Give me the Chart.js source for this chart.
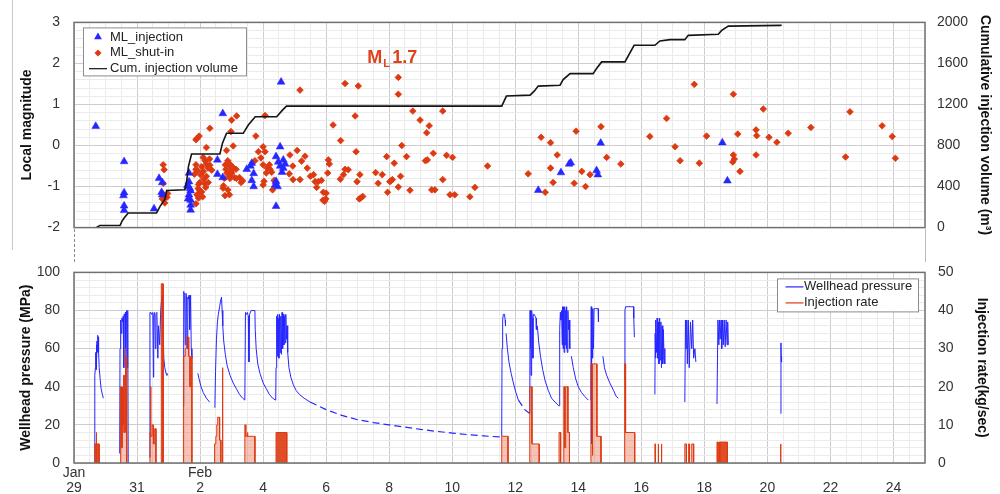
<!DOCTYPE html>
<html>
<head>
<meta charset="utf-8">
<script src="https://cdn.jsdelivr.net/npm/chart.js@4.4.1/dist/chart.umd.min.js"></script>
<style>
  html, body { margin: 0; padding: 0; background: #fff; }
  #wrap { position: relative; width: 1000px; height: 494px; overflow: hidden; }
  #top-box { position: absolute; left: 0; top: 0; width: 1000px; height: 250px; }
  #bottom-box { position: absolute; left: 0; top: 250px; width: 1000px; height: 244px; }
  .rule { position: absolute; width: 0; }
</style>
</head>
<body>
<div id="wrap">
  <div id="top-box"><canvas id="magnitude-chart"></canvas></div>
  <div id="bottom-box"><canvas id="pressure-chart"></canvas></div>
  <div class="rule" style="left:12px;top:0;height:250px;border-left:1px solid #c8c8c8"></div>
  <div class="rule" style="left:74px;top:229px;height:33px;border-left:1px dashed #888"></div>
  <div class="rule" style="left:925px;top:229px;height:33px;border-left:1px solid #bbb"></div>
</div>
<script>
// x values are days after Jan 29
const dayTicks = [0, 2, 4, 6, 8, 10, 12, 14, 16, 18, 20, 22, 24, 26];
const dayTickLabels = [['Jan', '29'], ['', '31'], ['Feb', '2'], ['', '4'], ['', '6'], ['', '8'], ['', '10'],
  ['', '12'], ['', '14'], ['', '16'], ['', '18'], ['', '20'], ['', '22'], ['', '24']];

// [day, local magnitude]
const mlInjection = [
  [0.69, 0.47], [1.59, -0.39], [1.59, -1.15], [1.57, -1.22], [1.59, -1.47], [1.59, -1.58],
  [2.54, -1.54], [2.7, -0.8], [2.8, -0.9], [2.78, -1.14], [2.8, -1.2],
  [3.65, -0.67], [3.65, -0.88], [3.62, -1.0], [3.6, -0.97], [3.7, -1.1], [3.68, -1.05], [3.65, -1.2],
  [3.7, -1.33], [3.7, -1.45], [3.7, -1.57], [3.62, -1.3],
  [4.72, 0.78], [4.55, -0.35], [4.55, -0.7], [4.72, -0.78],
  [5.48, -0.58], [5.64, -0.43], [5.6, -0.5], [5.7, -0.68], [5.64, -0.85], [5.7, -1.0],
  [6.41, -0.27], [6.54, -0.03], [6.57, 1.55], [6.64, -0.35], [6.48, -0.4], [6.54, -0.5], [6.7, -0.45],
  [6.64, -0.55], [6.6, -0.65], [6.41, -0.87], [6.46, -1.0], [6.38, -0.96], [6.41, -1.48],
  [14.73, -1.09], [15.45, -0.66], [15.71, -0.45], [15.76, -0.42], [16.71, 0.06], [16.58, -0.61], [16.62, -0.71],
  [20.57, 0.07], [20.73, -0.86]
];

const mlShutIn = [
  [2.83, -0.47], [2.86, -0.59], [2.83, -0.92], [2.81, -1.17], [2.9, -1.24], [2.86, -1.3], [2.97, -1.17],
  [2.8, -1.3], [2.88, -1.4], [2.95, -1.26],
  [3.97, 0.23], [3.9, 0.17], [4.31, 0.42], [4.2, -0.05], [3.87, 0.14], [3.87, -0.47], [3.87, -0.58],
  [3.82, -0.7], [3.92, -0.62], [3.95, -0.95], [3.95, -1.28], [3.87, -1.42], [4.0, -1.1], [3.9, -1.2],
  [4.1, -0.29], [4.16, -0.37], [4.2, -0.45], [4.05, -0.52], [4.31, -0.48], [4.1, -0.63], [4.2, -0.75],
  [3.99, -0.9], [4.15, -0.93], [3.94, -1.05], [4.05, -1.13], [3.92, -1.2], [4.26, -0.9], [4.37, -0.6],
  [4.3, -0.33], [4.25, -0.55], [4.12, -0.82], [4.02, -0.72], [4.18, -1.02], [4.08, -1.25],
  [5.0, 0.62], [5.16, 0.72], [4.98, 0.34], [5.05, -0.01], [4.84, -0.12], [4.88, -0.37], [4.93, -0.44],
  [5.03, -0.52], [4.82, -0.58], [4.98, -0.62], [5.14, -0.58], [4.93, -0.75], [5.09, -0.78], [5.25, -0.78],
  [4.73, -1.04], [4.88, -1.08], [4.79, -1.22], [4.93, -1.2],
  [4.8, -0.47], [4.94, -0.5], [5.05, -0.55], [4.85, -0.67], [5.0, -0.67], [4.77, -0.8], [4.95, -0.8],
  [5.15, -0.8], [5.3, -0.9], [5.35, -0.86], [4.74, -0.98],
  [5.77, 0.23], [6.06, 0.73], [6.0, -0.03], [5.85, -0.15], [6.06, -0.15], [5.74, -0.37], [5.93, -0.3],
  [6.0, -0.47], [6.2, -0.47], [6.13, -0.55], [6.22, -0.58], [6.1, -0.67], [6.27, -0.65], [6.0, -0.96],
  [6.3, -1.08], [6.35, -0.85], [6.03, -0.87],
  [7.17, 1.35], [6.85, -0.23], [7.08, -0.12], [7.33, -0.26], [7.22, -0.38], [6.94, -0.5], [7.4, -0.55],
  [6.83, -0.69], [7.17, -0.83], [6.95, -0.83], [7.6, -0.71], [7.75, -0.88], [7.65, -0.88], [7.7, -1.02],
  [7.5, -0.75], [7.85, -0.85], [7.91, -1.14], [7.9, -1.33], [7.99, -1.3], [8.07, -0.35], [8.1, -0.45],
  [8.05, -0.67], [8.0, -1.16], [7.95, -1.36],
  [8.22, 0.5], [8.6, 1.51], [8.46, 0.12], [8.55, -0.71], [8.7, -0.59], [8.6, -0.58], [8.45, -0.82],
  [8.95, -0.15], [9.02, 1.45], [8.92, 0.72], [9.07, -0.71], [8.98, -0.88], [9.16, -1.24], [9.1, -1.28], [9.05, -1.3],
  [9.57, -0.66], [9.78, -0.71], [9.65, -0.92], [9.95, -1.14], [9.92, -0.27], [10.06, -0.86], [10.1, -0.83],
  [10.02, -0.88], [10.16, -0.43], [10.29, 1.66], [10.29, 1.25], [10.29, -1.01], [10.36, -0.75], [10.4, 0.0],
  [10.55, -0.27], [10.66, -1.09], [10.75, 0.84], [10.98, 0.62], [11.19, 0.31], [11.27, 0.48], [11.21, -0.35],
  [11.15, -0.37], [11.4, -0.19], [11.45, -1.08], [11.35, -1.08], [11.7, 0.84], [11.7, -0.83], [11.82, -0.24],
  [12.01, -0.29], [11.93, -1.2], [12.08, -1.2], [12.56, -1.25], [12.72, -1.02], [13.12, -0.5],
  [14.41, -0.69], [14.82, 0.2], [15.12, 0.07], [15.33, -0.23], [15.12, -0.55], [15.2, -0.9], [14.95, -1.14],
  [15.93, 0.35], [16.11, -0.63], [15.87, -0.92], [16.23, -1.0], [16.37, -0.71], [16.72, 0.46], [16.9, -0.29],
  [17.35, -0.45], [18.27, 0.22], [18.8, 0.66], [19.68, 1.49], [19.07, -0.03], [19.23, -0.37], [19.84, -0.43],
  [20.07, 0.23], [20.92, 1.25], [20.92, -0.23], [20.95, -0.33], [20.9, -0.4], [21.06, 0.28], [21.13, -0.63],
  [21.64, 0.38], [21.66, 0.24], [21.64, -0.23], [21.87, 0.89], [22.05, 0.2], [22.3, 0.08], [22.66, 0.3],
  [23.38, 0.44], [24.48, -0.28], [24.62, 0.82], [25.64, 0.48], [25.96, 0.22], [26.06, -0.31]
];

// [day, m3]
const cumVolume = [
  [0.7, 0], [0.82, 20], [1.46, 20], [1.52, 60], [1.59, 94], [1.72, 143], [2.62, 143], [2.73, 207], [2.85, 260],
  [2.89, 279], [2.94, 362], [3.52, 369], [3.58, 466], [3.63, 595], [3.73, 718], [4.63, 718], [4.71, 822],
  [4.84, 919], [5.37, 919], [5.53, 1000], [5.75, 1081], [6.43, 1081], [6.6, 1140], [6.74, 1184], [13.57, 1184],
  [13.72, 1282], [14.47, 1291], [14.6, 1330], [14.73, 1379], [15.42, 1388], [15.52, 1443], [15.74, 1501],
  [16.47, 1501], [16.58, 1550], [16.74, 1615], [17.48, 1615], [17.77, 1777], [18.43, 1777], [18.59, 1819],
  [18.91, 1832], [19.38, 1832], [19.49, 1874], [20.44, 1884], [20.55, 1922], [20.76, 1964], [22.42, 1971], [22.45, 1975]
];

// [day, MPa]
const wellheadPressure = [
  [0.66, 0], [0.66, 46], [0.68, 50], [0.69, 58], [0.7, 49], [0.71, 62], [0.72, 55], [0.73, 64], [0.74, 58],
  [0.76, 67], [0.77, 66], [0.78, 58], [0.8, 50], [0.83, 44], [0.86, 39], [0.9, 36], [0.93, 34], [0.93, null],
  [1.45, 5], [1.46, 60], [1.47, 72], [1.49, 75], [1.5, 68], [1.52, 76], [1.54, 74], [1.56, 77], [1.58, 50],
  [1.59, 78], [1.61, 77], [1.63, 79], [1.64, 45], [1.65, 78], [1.67, 80], [1.69, 50], [1.7, 80], [1.71, 80],
  [1.72, 0], [1.72, null],
  [2.4, 3], [2.41, 79], [2.44, 79], [2.46, 78], [2.5, 79], [2.52, 45], [2.53, 78], [2.56, 79], [2.58, 60],
  [2.6, 78], [2.63, 79], [2.66, 55], [2.68, 72], [2.72, 62], [2.75, 80], [2.78, 86], [2.8, 88], [2.82, 75],
  [2.85, 55], [2.88, 50], [2.92, 47], [2.95, 46], [2.95, null],
  [3.46, 30], [3.47, 88], [3.49, 90], [3.51, 88], [3.53, 62], [3.55, 89], [3.57, 88], [3.59, 60], [3.61, 87],
  [3.63, 86], [3.65, 88], [3.67, 70], [3.7, 88], [3.72, 60], [3.74, 56], [3.77, 55], [3.77, null],
  [3.93, 47], [3.97, 44], [4.03, 40], [4.1, 37], [4.2, 34], [4.3, 32], [4.3, null],
  [4.47, 29], [4.49, 48], [4.52, 65], [4.55, 74], [4.58, 78], [4.62, 82], [4.65, 85], [4.68, 87], [4.7, 80],
  [4.72, 72], [4.75, 64], [4.8, 57], [4.86, 51], [4.95, 46], [5.05, 42], [5.15, 39], [5.25, 36], [5.35, 34],
  [5.42, 33], [5.44, 79], [5.47, 78], [5.5, 79], [5.53, 77], [5.55, 53], [5.57, 78], [5.62, 80], [5.68, 80],
  [5.74, 80], [5.75, 70], [5.78, 60], [5.83, 52], [5.9, 47], [6.0, 42], [6.1, 39], [6.2, 36], [6.3, 34], [6.4, 33],
  [6.41, 50], [6.42, 75], [6.43, 58], [6.44, 77], [6.45, 56], [6.46, 78], [6.47, 60], [6.48, 76], [6.5, 55],
  [6.52, 78], [6.54, 58], [6.56, 77], [6.58, 57], [6.6, 79], [6.62, 60], [6.64, 78], [6.66, 62], [6.68, 77],
  [6.7, 63], [6.72, 78], [6.74, 65], [6.76, 72], [6.78, 58], [6.82, 50], [6.88, 45], [6.96, 41], [7.05, 38],
  [7.15, 36], [7.3, 34], [7.49, 32], [7.49, null],
  [13.57, 14], [13.58, 60], [13.6, 75], [13.62, 78], [13.66, 78], [13.68, 75], [13.69, 72], [13.69, null],
  [13.71, 68], [13.75, 60], [13.8, 53], [13.87, 47], [13.94, 42], [14.02, 37], [14.1, 33], [14.1, null],
  [14.46, 26], [14.47, 80], [14.48, 60], [14.49, 80], [14.5, 46], [14.51, 80], [14.52, 50], [14.53, 80],
  [14.54, 76], [14.56, 55], [14.57, 78], [14.6, 78], [14.63, 77], [14.66, 76], [14.67, 70], [14.67, null],
  [14.7, 72], [14.74, 64], [14.8, 56], [14.87, 49], [14.95, 43], [15.05, 38], [15.15, 34], [15.26, 32], [15.38, 30],
  [15.4, 30], [15.41, 70], [15.43, 79], [15.45, 75], [15.47, 80], [15.49, 62], [15.5, 82], [15.52, 60],
  [15.53, 82], [15.55, 58], [15.57, 82], [15.58, 62], [15.6, 80], [15.62, 60], [15.63, 82], [15.65, 58],
  [15.67, 80], [15.69, 70], [15.71, 75], [15.73, 60], [15.73, null],
  [15.78, 56], [15.84, 50], [15.92, 44], [16.0, 40], [16.1, 37], [16.2, 35], [16.32, 33], [16.32, null],
  [16.4, 33], [16.41, 82], [16.42, 10], [16.43, 82], [16.45, 55], [16.46, 81], [16.48, 60], [16.5, 81],
  [16.55, 81], [16.6, 81], [16.63, 81], [16.64, 74], [16.64, null],
  [16.78, 56], [16.83, 50], [16.9, 46], [17.0, 42], [17.12, 38], [17.2, 35], [17.27, 34], [17.27, null],
  [17.47, 44], [17.48, 80], [17.5, 82], [17.6, 82], [17.7, 82], [17.75, 82], [17.76, 76], [17.78, 66], [17.78, null],
  [18.43, 36], [18.44, 68], [18.45, 55], [18.46, 75], [18.48, 58], [18.5, 76], [18.52, 55], [18.54, 74],
  [18.56, 52], [18.58, 76], [18.6, 54], [18.62, 74], [18.64, 50], [18.66, 72], [18.68, 52], [18.7, 70],
  [18.72, 55], [18.74, 60], [18.75, 52], [18.75, null],
  [19.38, 32], [19.4, 75], [19.42, 60], [19.44, 75], [19.46, 52], [19.49, 75], [19.52, 50], [19.56, 74],
  [19.6, 60], [19.63, 75], [19.66, 55], [19.7, 60], [19.73, 53], [19.73, null],
  [20.4, 31], [20.43, 75], [20.46, 62], [20.48, 75], [20.5, 65], [20.53, 75], [20.55, 60], [20.58, 75],
  [20.6, 62], [20.63, 75], [20.66, 61], [20.69, 75], [20.72, 62], [20.74, 74], [20.76, 62], [20.76, null],
  [22.42, 26], [22.43, 63], [22.44, 53], [22.45, 56]
];

// shut-in decay, drawn dashed
const pressureShutIn = [
  [7.49, 32], [8.0, 28], [8.5, 25], [9.0, 22.7], [9.5, 21.2], [10.0, 20], [10.5, 18.8], [11.0, 17.6],
  [11.5, 16.6], [12.0, 15.7], [12.5, 14.9], [13.0, 14.2], [13.57, 13.6], [13.57, null],
  [14.1, 33], [14.3, 28], [14.46, 26]
];

// [day, kg/sec]
const injectionRate = [
  [0.7, 0], [0.7, 8], [0.72, 8], [0.72, 0], [0.72, null],
  [1.46, 0], [1.46, 6], [1.49, 6], [1.49, 20], [1.5, 20], [1.5, 4], [1.53, 4], [1.53, 20], [1.54, 20],
  [1.54, 10], [1.57, 10], [1.57, 23], [1.59, 23], [1.59, 8], [1.62, 8], [1.62, 30], [1.64, 30], [1.64, 20],
  [1.66, 20], [1.66, 28], [1.68, 28], [1.68, 0], [1.68, null],
  [2.41, 0], [2.41, 8], [2.43, 8], [2.43, 20], [2.44, 20], [2.44, 7], [2.48, 7], [2.48, 10], [2.52, 10],
  [2.52, 5], [2.56, 5], [2.56, 9], [2.6, 9], [2.6, 0], [2.6, null],
  [3.46, 0], [3.46, 14], [3.47, 14], [3.47, 0], [3.48, 0], [3.48, 28], [3.53, 28], [3.53, 30], [3.56, 30],
  [3.56, 33], [3.64, 33], [3.64, 28], [3.68, 28], [3.68, 20], [3.71, 20], [3.71, 28], [3.74, 28], [3.74, 0], [3.74, null],
  [4.46, 0], [4.46, 5], [4.5, 5], [4.5, 7], [4.53, 7], [4.53, 10], [4.56, 10], [4.56, 12], [4.62, 12],
  [4.62, 6], [4.66, 6], [4.66, 0], [4.66, null], [4.71, 0], [4.71, 25], [4.72, 25], [4.72, 0], [4.72, null],
  [5.42, 0], [5.42, 10], [5.45, 10], [5.45, 7], [5.49, 7], [5.49, 8], [5.52, 8], [5.52, 7], [5.74, 7], [5.74, 0], [5.74, null],
  [13.57, 0], [13.57, 7], [13.77, 7], [13.77, 0], [13.77, null],
  [14.46, 0], [14.46, 20], [14.53, 20], [14.53, 5], [14.76, 5], [14.76, 0], [14.76, null],
  [15.39, 0], [15.39, 8], [15.44, 8], [15.44, 0], [15.54, 0], [15.54, 20], [15.57, 20], [15.57, 4], [15.6, 4],
  [15.6, 20], [15.67, 20], [15.67, 8], [15.72, 8], [15.72, 0], [15.72, null],
  [16.4, 0], [16.4, 26], [16.44, 26], [16.44, 2], [16.46, 2], [16.46, 26], [16.59, 26], [16.59, 7], [16.72, 7],
  [16.72, 0], [16.72, null],
  [17.47, 0], [17.47, 26], [17.5, 26], [17.5, 8], [17.79, 8], [17.79, 0], [17.79, null],
  [18.43, 0], [18.43, 5], [18.45, 5], [18.45, 0], [18.45, null], [18.53, 0], [18.53, 5], [18.55, 5], [18.55, 0],
  [18.55, null], [18.63, 0], [18.63, 5], [18.65, 5], [18.65, 0], [18.65, null],
  [19.38, 0], [19.38, 5], [19.43, 5], [19.43, 0], [19.43, null], [19.5, 0], [19.5, 5], [19.53, 5], [19.53, 0],
  [19.53, null], [19.6, 0], [19.6, 5], [19.66, 5], [19.66, 0], [19.66, null],
  [20.4, 0], [20.4, 5.5], [20.43, 5.5], [20.43, 0], [20.43, null], [20.46, 0], [20.46, 5.5], [20.49, 5.5],
  [20.49, 0], [20.49, null],
  [22.41, 0], [22.41, 5], [22.43, 5], [22.43, 0]
];

// densely pulsed periods that print as solid blocks
const injectionRateSolid = [
  [0.66, 0], [0.66, 5], [0.8, 5], [0.8, 0], [0.8, null],
  [2.77, 0], [2.77, 47], [2.83, 47], [2.83, 0], [2.83, null],
  [6.41, 0], [6.41, 8], [6.75, 8], [6.75, 0], [6.75, null],
  [20.5, 0], [20.5, 5.5], [20.73, 5.5], [20.73, 0]
];

const FONT = "'Liberation Sans', Arial, sans-serif";
const BLUE = '#2626ff';
const RED = '#dd3a12';
Chart.defaults.font.family = FONT;
Chart.defaults.color = '#333';
Chart.defaults.animation = false;

function isMultiple(v, step) {
    const r = v / step;
    return Math.abs(r - Math.round(r)) < 1e-6;
}

function gridColor(major) {
    return ctx => (ctx.tick && isMultiple(ctx.tick.value, major)) ? '#cdcdcd' : '#ebebeb';
}

function dayAxis(showLabels) {
    return {
        type: 'linear', min: 0, max: 27,
        border: { display: false },
        grid: { color: gridColor(2), drawTicks: false },
        ticks: {
            display: showLabels, stepSize: 0.5, autoSkip: false, maxRotation: 0, padding: 2,
            font: { size: 14, lineHeight: 1.1 },
            callback: v => {
                const i = dayTicks.findIndex(d => Math.abs(d - v) < 1e-6);
                return i >= 0 ? dayTickLabels[i] : '';
            }
        },
        afterFit: s => { s.height = showLabels ? 31 : 0; }
    };
}

function sideAxis(side, min, max, step, major, title, titlePad, tickPad) {
    return {
        type: 'linear', position: side, min: min, max: max,
        border: { display: false },
        grid: side === 'left' ? { color: gridColor(major), drawTicks: false } : { drawOnChartArea: false, drawTicks: false },
        ticks: {
            stepSize: step, autoSkip: false, padding: tickPad, font: { size: 14 }, color: '#333',
            callback: v => isMultiple(v, major) ? String(Math.round(v)) : ''
        },
        title: { display: true, text: title, color: '#111', font: { size: 14, weight: 'bold' }, padding: { top: titlePad, bottom: 0 } },
        afterFit: s => { s.width = side === 'left' ? 74 : 75; }
    };
}

const framePlugin = {
    id: 'frame',
    afterDatasetsDraw(chart) {
        const { ctx, chartArea: a } = chart;
        ctx.save();
        ctx.strokeStyle = '#707070';
        ctx.lineWidth = 1.5;
        ctx.strokeRect(a.left, a.top, a.right - a.left, a.bottom - a.top);
        ctx.restore();
    }
};

function drawMarker(ctx, style, x, y, r) {
    ctx.beginPath();
    if (style === 'triangle') {
        ctx.moveTo(x, y - r);
        ctx.lineTo(x + r * 0.87, y + r * 0.5);
        ctx.lineTo(x - r * 0.87, y + r * 0.5);
    } else {
        ctx.moveTo(x, y - r);
        ctx.lineTo(x + r, y);
        ctx.lineTo(x, y + r);
        ctx.lineTo(x - r, y);
    }
    ctx.closePath();
    ctx.fill();
}

function drawLegendBox(ctx, box, items) {
    ctx.save();
    ctx.fillStyle = '#fff';
    ctx.fillRect(box.x, box.y, box.w, box.h);
    ctx.strokeStyle = '#8c8c8c';
    ctx.lineWidth = 1;
    ctx.strokeRect(box.x + 0.5, box.y + 0.5, box.w, box.h);
    ctx.font = '13px ' + FONT;
    ctx.textBaseline = 'middle';
    items.forEach((it, i) => {
        const y = box.y + box.pad + i * box.row;
        const mx = box.x + box.markX;
        if (it.marker) {
            ctx.fillStyle = it.color;
            drawMarker(ctx, it.marker, mx, y, it.radius);
        } else {
            ctx.strokeStyle = it.color;
            ctx.lineWidth = 1.2;
            ctx.beginPath();
            ctx.moveTo(mx - 9, y);
            ctx.lineTo(mx + 9, y);
            ctx.stroke();
        }
        ctx.fillStyle = '#222';
        ctx.fillText(it.text, box.x + box.textX, y);
    });
    ctx.restore();
}

const topLegendPlugin = {
    id: 'topLegend',
    afterDraw(chart) {
        const { ctx, chartArea: a, scales } = chart;
        // peak event label
        const peak = mlShutIn.reduce((p, q) => q[1] > p[1] ? q : p);
        const px = scales.x.getPixelForValue(peak[0]);
        const py = scales.y.getPixelForValue(peak[1]);
        ctx.save();
        ctx.fillStyle = '#e0401a';
        ctx.textBaseline = 'alphabetic';
        ctx.font = 'bold 18px ' + FONT;
        ctx.fillText('M', px - 31, py - 14);
        ctx.font = 'bold 11px ' + FONT;
        ctx.fillText('L', px - 15, py - 10);
        ctx.font = 'bold 18px ' + FONT;
        ctx.fillText(peak[1].toFixed(1), px - 6, py - 14);
        ctx.restore();

        drawLegendBox(ctx, { x: a.left + 9, y: a.top + 5, w: 163, h: 48, pad: 9.7, row: 15.8, markX: 15, textX: 27 }, [
            { text: 'ML_injection', marker: 'triangle', color: BLUE, radius: 4.5 },
            { text: 'ML_shut-in', marker: 'diamond', color: RED, radius: 3.5 },
            { text: 'Cum. injection volume', color: '#111' }
        ]);
    }
};

const bottomLegendPlugin = {
    id: 'bottomLegend',
    afterDraw(chart) {
        const { ctx, chartArea: a } = chart;
        drawLegendBox(ctx, { x: a.right - 148, y: a.top + 6, w: 141, h: 33, pad: 8.5, row: 16, markX: 17.5, textX: 27 }, [
            { text: 'Wellhead pressure', color: BLUE },
            { text: 'Injection rate', color: RED }
        ]);
    }
};

new Chart(document.getElementById('magnitude-chart'), {
    type: 'line',
    data: {
        datasets: [
            {
                label: 'Cum. injection volume', data: cumVolume, yAxisID: 'y1',
                borderColor: '#151515', borderWidth: 1.6, pointRadius: 0, fill: false
            },
            {
                label: 'ML_injection', data: mlInjection, showLine: false,
                pointStyle: 'triangle', pointRadius: 4.5,
                pointBackgroundColor: BLUE, pointBorderColor: BLUE, pointBorderWidth: 0.5
            },
            {
                label: 'ML_shut-in', data: mlShutIn, showLine: false,
                pointStyle: 'rectRot', pointRadius: 3.3,
                pointBackgroundColor: RED, pointBorderColor: RED, pointBorderWidth: 0.8
            }
        ]
    },
    options: {
        responsive: true, maintainAspectRatio: false, events: [],
        layout: { padding: { top: 22, bottom: 22, left: 0, right: 0 } },
        plugins: { legend: { display: false }, tooltip: { enabled: false } },
        scales: {
            x: dayAxis(false),
            y: sideAxis('left', -2, 3, 0.2, 1, 'Local magnitude', 18.6, 14),
            y1: sideAxis('right', 0, 2000, 400, 400, 'Cumulative injection volume (m\u00b3)', 6.6, 12)
        }
    },
    plugins: [framePlugin, topLegendPlugin]
});

new Chart(document.getElementById('pressure-chart'), {
    type: 'line',
    data: {
        datasets: [
            {
                label: 'Injection rate', data: injectionRateSolid, yAxisID: 'y1',
                borderColor: RED, backgroundColor: 'rgba(221,58,18,0.9)', fill: 'origin',
                borderWidth: 1, pointRadius: 0
            },
            {
                label: 'Injection rate', data: injectionRate, yAxisID: 'y1',
                borderColor: RED, backgroundColor: 'rgba(221,58,18,0.3)', fill: 'origin',
                borderWidth: 1, pointRadius: 0
            },
            {
                label: 'Wellhead pressure', data: wellheadPressure,
                borderColor: BLUE, borderWidth: 1, pointRadius: 0, fill: false
            },
            {
                label: 'Wellhead pressure', data: pressureShutIn,
                borderColor: BLUE, borderWidth: 1.2, borderDash: [7, 4], pointRadius: 0, fill: false
            }
        ]
    },
    options: {
        responsive: true, maintainAspectRatio: false, events: [],
        layout: { padding: { top: 13, bottom: 0, left: 0, right: 0 } },
        plugins: { legend: { display: false }, tooltip: { enabled: false } },
        scales: {
            x: dayAxis(true),
            y: sideAxis('left', 0, 100, 4, 20, 'Wellhead pressure (MPa)', 18, 14),
            y1: sideAxis('right', 0, 50, 10, 10, 'Injection rate(kg/sec)', 9.6, 13)
        }
    },
    plugins: [framePlugin, bottomLegendPlugin]
});
</script>
</body>
</html>
